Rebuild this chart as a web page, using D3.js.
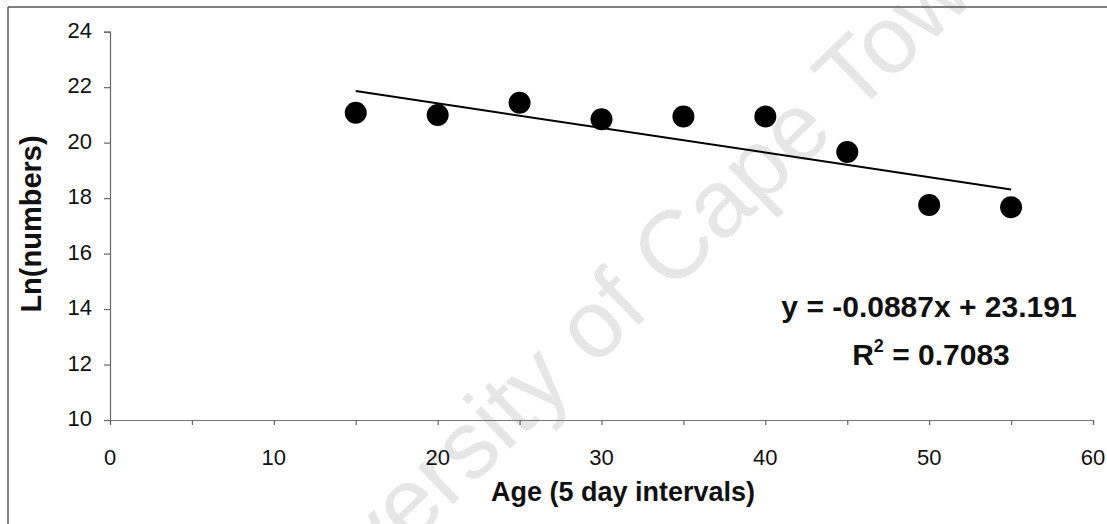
<!DOCTYPE html>
<html>
<head>
<meta charset="utf-8">
<script src="https://cdn.jsdelivr.net/npm/d3@7/dist/d3.min.js"></script>
<style>
  html, body { margin: 0; padding: 0; background: #fff; }
  svg { display: block; }
  text { font-family: "Liberation Sans", Arial, sans-serif; }
</style>
</head>
<body>
<svg id="chart" width="1107" height="524"></svg>
<script>
// ---- data ----
const ages = [15, 20, 25, 30, 35, 40, 45, 50, 55];
const lnNumbers = [21.08, 21.0, 21.44, 20.84, 20.94, 20.94, 19.66, 17.75, 17.67];
const trendSlope = -0.0887;
const trendIntercept = 23.191;
const rSquared = "0.7083";
const xTicks = [0, 10, 20, 30, 40, 50, 60];
const xMinorTicks = [0, 5, 10, 15, 20, 25, 30, 35, 40, 45, 50, 55, 60];
const yTicks = [10, 12, 14, 16, 18, 20, 22, 24];
const xTitle = "Age (5 day intervals)";
const yTitle = "Ln(numbers)";
const watermark = "University of Cape Town";

// ---- layout ----
const svg = d3.select("#chart");
const x = d3.scaleLinear().domain([0, 60]).range([110, 1093]);
const y = d3.scaleLinear().domain([10, 24]).range([420, 31.7]);

// watermark
svg.append("text")
  .attr("transform", "translate(620,296) rotate(-44)")
  .attr("text-anchor", "middle")
  .attr("dominant-baseline", "central")
  .attr("font-size", 96)
  .attr("fill", "#e6e6e6")
  .text(watermark);

// page border (top & left)
svg.append("line").attr("x1", 8).attr("x2", 1107).attr("y1", 7).attr("y2", 7)
  .attr("stroke", "#555").attr("stroke-width", 1.5);
svg.append("line").attr("x1", 8).attr("x2", 8).attr("y1", 7).attr("y2", 524)
  .attr("stroke", "#555").attr("stroke-width", 1.5);

// y axis
const yAxis = svg.append("g").attr("transform", `translate(${x(0)},0)`)
  .call(d3.axisLeft(y).tickValues(yTicks).tickSize(6).tickPadding(12).tickFormat(d3.format("d")));
yAxis.select(".domain").attr("stroke", "#666").attr("stroke-width", 1.2);
yAxis.selectAll(".tick line").attr("stroke", "#666").attr("stroke-width", 1.2);
yAxis.selectAll(".tick text")
  .attr("font-family", "'Liberation Sans', Arial, sans-serif")
  .attr("font-size", 22).attr("fill", "#111").attr("dy", "0.25em");

// x axis
const xAxisG = svg.append("g").attr("transform", `translate(0,${y(10)})`);
xAxisG.call(d3.axisBottom(x).tickValues(xMinorTicks).tickSize(5).tickFormat(""));
xAxisG.select(".domain").attr("stroke", "#777").attr("stroke-width", 1.2);
xAxisG.selectAll(".tick line").attr("stroke", "#666").attr("stroke-width", 1.2);
xAxisG.selectAll(".xlab").data(xTicks).enter().append("text")
  .attr("class", "xlab")
  .attr("x", d => x(d))
  .attr("y", 45)
  .attr("text-anchor", "middle")
  .attr("font-size", 22)
  .attr("fill", "#111")
  .text(d => d);

// axis titles
svg.append("text")
  .attr("x", 623).attr("y", 501)
  .attr("text-anchor", "middle")
  .attr("font-size", 27).attr("font-weight", "bold").attr("fill", "#111")
  .text(xTitle);
svg.append("text")
  .attr("transform", "translate(41,224) rotate(-90)")
  .attr("text-anchor", "middle")
  .attr("font-size", 29).attr("font-weight", "bold").attr("fill", "#111")
  .text(yTitle);

// trend line
const x0 = d3.min(ages), x1 = d3.max(ages);
svg.append("line")
  .attr("x1", x(x0)).attr("y1", y(trendSlope * x0 + trendIntercept))
  .attr("x2", x(x1)).attr("y2", y(trendSlope * x1 + trendIntercept))
  .attr("stroke", "#000").attr("stroke-width", 2);

// points
svg.selectAll(".pt").data(ages).enter().append("circle")
  .attr("class", "pt")
  .attr("cx", d => x(d))
  .attr("cy", (d, i) => y(lnNumbers[i]))
  .attr("r", 11)
  .attr("fill", "#000");

// equation
svg.append("text")
  .attr("x", 929).attr("y", 317)
  .attr("text-anchor", "middle")
  .attr("font-size", 30).attr("font-weight", "bold").attr("fill", "#111")
  .text(`y = ${trendSlope}x + ${trendIntercept}`);
const r2 = svg.append("text")
  .attr("x", 931).attr("y", 365)
  .attr("text-anchor", "middle")
  .attr("font-size", 30).attr("font-weight", "bold").attr("fill", "#111");
r2.append("tspan").text("R");
r2.append("tspan").attr("font-size", 18).attr("dy", -13).text("2");
r2.append("tspan").attr("dy", 13).text(" = " + rSquared);
</script>
</body>
</html>
